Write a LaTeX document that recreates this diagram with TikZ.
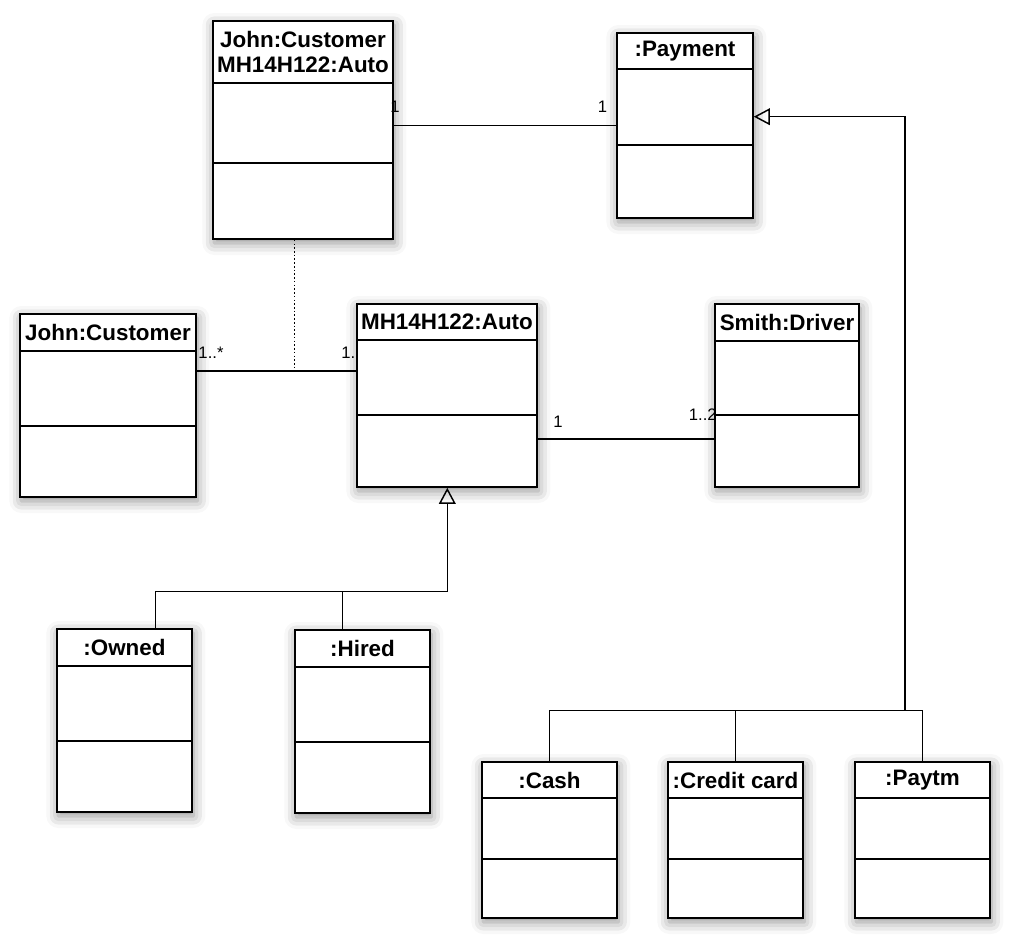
\documentclass[tikz,border=0pt]{standalone}
\usepackage{fontspec}
\setmainfont{Liberation Sans}
\usetikzlibrary{fit,arrows.meta,shadows.blur}
\tikzset{
  objbox/.style={draw, line width=1.2pt, fill=white, inner sep=0pt,
    blur shadow={shadow xshift=1pt, shadow yshift=-3pt, shadow blur radius=9pt, shadow opacity=45}},
  divider/.style={line width=1.1pt},
  objtitle/.style={font=\fontsize{16.8}{19}\selectfont\bfseries, align=center, inner sep=0pt},
  mult/.style={font=\fontsize{12.5}{14}\selectfont, inner sep=0pt},
  conn/.style={line width=1.1pt},
  gen/.style={conn, -{Triangle[open, length=12pt, width=12.5pt]}},
  dotconn/.style={line width=1pt, dash pattern=on 1.2pt off 1.6pt},
}
\newcommand\umlobj[8]{%
  \node[objbox, fit={(#2,#3) (#4,#5)}] (#1) {};
  \draw[divider] (#2,#6) -- (#4,#6);
  \draw[divider] (#2,#7) -- (#4,#7);
  \node[objtitle] (#1-t) at ({(#2+#4)/2},{(#3+#6)/2}) {#8};
}
\begin{document}
\begin{tikzpicture}[x=0.75pt, y=-0.75pt]
\useasboundingbox (0,0) rectangle (1010,938);
% objects
\umlobj{jca}{213}{21}{393}{239}{83}{163}{John:Customer\\MH14H122:Auto}
\umlobj{pay}{617}{33}{753}{218}{69}{145}{:Payment}
\umlobj{jc}{20}{314}{196}{497}{351}{426}{John:Customer}
\umlobj{auto}{357}{304}{537}{487}{340}{415}{MH14H122:Auto}
\umlobj{drv}{715}{304}{859}{487}{341}{415}{Smith:Driver}
\umlobj{own}{57}{629}{192}{812}{666}{741}{:Owned}
\umlobj{hir}{295}{630}{430}{813}{667}{742}{:Hired}
\umlobj{cash}{482}{762}{617}{918}{798}{859}{:Cash}
\umlobj{cred}{668}{762}{803}{918}{798}{859}{:Credit card}
\umlobj{ptm}{855}{762}{990}{918}{798}{859}{:Paytm}
% helper coordinates
\coordinate (y1) at (0,125.3);
\coordinate (y2) at (0,371);
\coordinate (y3) at (0,439);
\coordinate (dt) at (294.6,371);
\coordinate (gA) at (447.3,591.7);
\coordinate (dO) at (155.7,591.7);
\coordinate (dH) at (342.7,591.7);
\coordinate (gP) at (905,710.7);
\coordinate (yP) at (0,116.7);
% associations
\draw[conn] (jca.east |- y1) -- (pay.west |- y1);
\node[mult] (m1) at (395,106.5) {1};
\node[mult] (m2) at (602.5,106.5) {1};
\draw[dotconn] (jca.south -| dt) -- (dt);
\draw[conn] (jc.east |- y2) -- (auto.west |- y2);
\node[mult] (m3) at (211,352.5) {1..*};
\node[mult, anchor=west] (m4) at (341,352.5) {1.};
\draw[conn] (auto.east |- y3) -- (drv.west |- y3);
\node[mult] (m5) at (558,422) {1};
\node[mult, anchor=east] (m6) at (717,414.5) {1..2};
% generalization to Auto
\draw[conn] (own.north -| dO) -- (dO) -- (gA);
\draw[conn] (hir.north -| dH) -- (dH);
\draw[gen] (gA) -- (auto.south -| gA);
% generalization to Payment
\draw[conn] (cash.north) -- (cash.north |- gP) -- (ptm.north |- gP) -- (ptm.north);
\draw[conn] (cred.north) -- (cred.north |- gP);
\draw[gen] (gP) |- (pay.east |- yP);
\end{tikzpicture}
\end{document}
